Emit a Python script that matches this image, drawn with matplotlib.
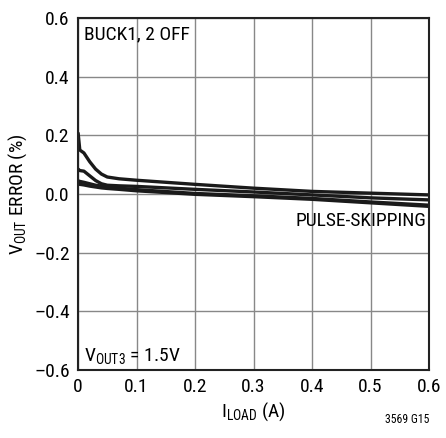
import numpy as np
import matplotlib
matplotlib.use('Agg')
import matplotlib.pyplot as plt

plt.rcParams['font.family'] = ['Roboto Condensed', 'DejaVu Sans']
plt.rcParams['mathtext.fontset'] = 'custom'
plt.rcParams['mathtext.rm'] = 'Roboto Condensed'
plt.rcParams['mathtext.it'] = 'Roboto Condensed'

# load current (A)
iload = [0, 0.003, 0.01, 0.02, 0.03, 0.04, 0.05, 0.07, 0.1, 0.2, 0.3, 0.4, 0.5, 0.6]
# Vout error (%) curves
err1 = [0.21, 0.15, 0.14, 0.11, 0.085, 0.068, 0.058, 0.052, 0.047, 0.033, 0.02, 0.009, 0.003, -0.003]
err2 = [0.085, 0.08, 0.078, 0.062, 0.046, 0.035, 0.03, 0.028, 0.026, 0.016, 0.007, -0.003, -0.013, -0.02]
err3 = [0.045, 0.043, 0.04, 0.035, 0.03, 0.027, 0.024, 0.02, 0.015, 0.002, -0.006, -0.015, -0.027, -0.038]
err4 = [0.035, 0.033, 0.031, 0.027, 0.024, 0.021, 0.019, 0.016, 0.011, -0.001, -0.009, -0.018, -0.03, -0.042]

xticks = [0, 0.1, 0.2, 0.3, 0.4, 0.5, 0.6]
yticks = [-0.6, -0.4, -0.2, 0.0, 0.2, 0.4, 0.6]

fig = plt.figure(figsize=(4.46, 4.38), dpi=100)
ax = fig.add_axes([0.175, 0.155, 0.787, 0.804])

for e in [err1, err2, err3, err4]:
    ax.plot(iload, e, color='#1a1a1a', lw=2.4, solid_capstyle='butt')

ax.set_xlim(0, 0.6)
ax.set_ylim(-0.6, 0.6)
ax.set_xticks(xticks)
ax.set_yticks(yticks)
ax.set_xticklabels(['0', '0.1', '0.2', '0.3', '0.4', '0.5', '0.6'])
ax.set_yticklabels(['\u20130.6', '\u20130.4', '\u20130.2', '0.0', '0.2', '0.4', '0.6'])
ax.tick_params(labelsize=14, length=0, pad=6)
ax.grid(True, color='#888888', lw=1.0)
for s in ax.spines.values():
    s.set_linewidth(1.5)
    s.set_color('#222222')

ax.set_xlabel(r'$\mathregular{I_{LOAD}}$ (A)', fontsize=14, labelpad=3)
ax.set_ylabel(r'$\mathregular{V_{OUT}}$ ERROR (%)', fontsize=14, labelpad=4)

ax.text(0.01, 0.575, 'BUCK1, 2 OFF', fontsize=14, va='top', ha='left')
ax.text(0.595, -0.093, 'PULSE-SKIPPING', fontsize=14, va='center', ha='right')
ax.text(0.01, -0.585, r'$\mathregular{V_{OUT3}}$ = 1.5V', fontsize=14, va='bottom', ha='left')
fig.text(0.962, 0.028, '3569 G15', fontsize=8.5, ha='right', va='bottom')

fig.savefig('out.png', dpi=100)
